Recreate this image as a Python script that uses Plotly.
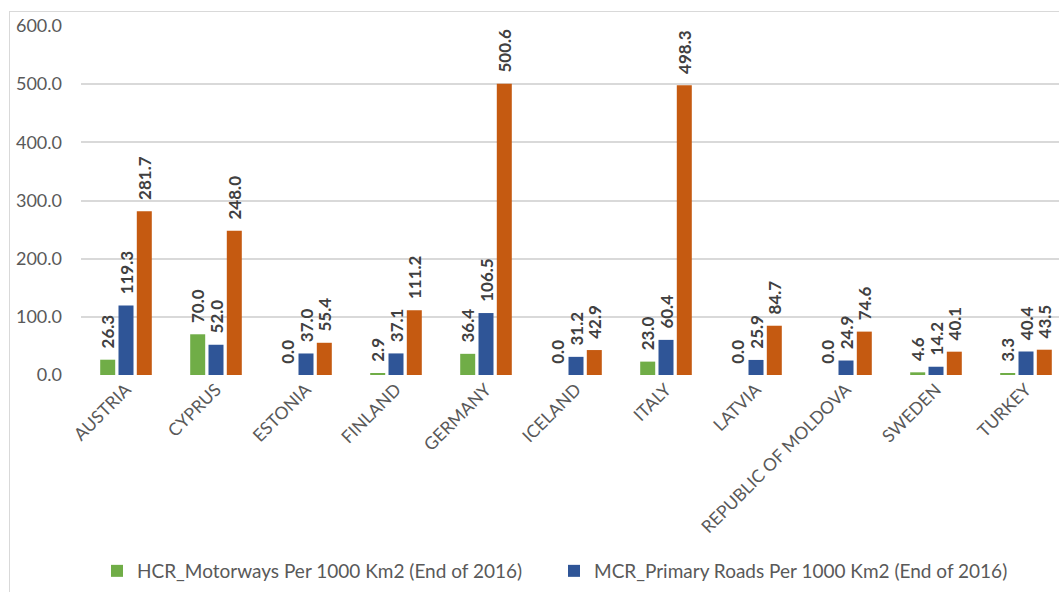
import plotly.graph_objects as go

countries = ["AUSTRIA", "CYPRUS", "ESTONIA", "FINLAND", "GERMANY", "ICELAND",
             "ITALY", "LATVIA", "REPUBLIC OF MOLDOVA", "SWEDEN", "TURKEY"]
hcr_motorways = [26.3, 70.0, 0.0, 2.9, 36.4, 0.0, 23.0, 0.0, 0.0, 4.6, 3.3]
mcr_primary = [119.3, 52.0, 37.0, 37.1, 106.5, 31.2, 60.4, 25.9, 24.9, 14.2, 40.4]
other_roads = [281.7, 248.0, 55.4, 111.2, 500.6, 42.9, 498.3, 84.7, 74.6, 40.1, 43.5]

series = [
    ("HCR_Motorways Per 1000 Km2 (End of 2016)", hcr_motorways, "#70AD47", True),
    ("MCR_Primary Roads Per 1000 Km2 (End of 2016)", mcr_primary, "#2F5597", True),
    ("LCR_Other Roads Per 1000 Km2 (End of 2016)", other_roads, "#C55A11", False),
]

FONT = "Lato, Carlito, 'Open Sans', sans-serif"

fig = go.Figure()
for name, vals, col, show in series:
    fig.add_trace(go.Bar(
        x=countries, y=vals, name=name, marker_color=col,
        marker_line_width=0, showlegend=show,
        texttemplate="\u00a0\u00a0%{y:.1f}", textposition="outside", textangle=-90,
        constraintext="none", cliponaxis=False,
        textfont=dict(family=FONT, size=17, color="#404040", weight="bold"),
    ))

W, H = 1059, 592
L, R, T, B = 81, 0, 26, 217
pw = W - L - R
ph = H - T - B

fig.update_layout(
    width=W, height=H,
    margin=dict(l=L, r=R, t=T, b=B, pad=0, autoexpand=False),
    paper_bgcolor="white", plot_bgcolor="white",
    barmode="group", bargap=0.39, bargroupgap=0.18,
    font=dict(family=FONT, color="#595959", size=17),
    legend=dict(orientation="h", x=(97 - L) / pw, y=(T + ph - 571) / ph,
                xanchor="left", yanchor="middle",
                font=dict(size=19, color="#595959"),
                entrywidth=412, entrywidthmode="pixels",
                itemclick=False, bgcolor="rgba(0,0,0,0)"),
    shapes=[
        dict(type="line", xref="paper", yref="paper",
             x0=(9.5 - L) / pw, x1=(9.5 - L) / pw,
             y0=(T + ph - 11) / ph, y1=(T + ph - 600) / ph,
             line=dict(color="#D9D9D9", width=1)),
        dict(type="line", xref="paper", yref="paper",
             x0=(9.5 - L) / pw, x1=(1070 - L) / pw,
             y0=(T + ph - 11.5) / ph, y1=(T + ph - 11.5) / ph,
             line=dict(color="#D9D9D9", width=1)),
    ],
)
fig.update_xaxes(
    range=[-0.5, -0.5 + 11 * pw / 990], tickangle=-45, automargin=False,
    tickfont=dict(size=17.5, color="#595959"),
    showgrid=False, showline=False, ticks="",
)
fig.update_yaxes(
    range=[0, 600], dtick=100, tickformat=".1f", automargin=False,
    tickfont=dict(size=18, color="#595959"),
    showgrid=True, gridcolor="#D9D9D9", gridwidth=1.5,
    zeroline=False, showline=False, ticks="", ticklabelstandoff=18,
)

fig.write_html("out.html")
